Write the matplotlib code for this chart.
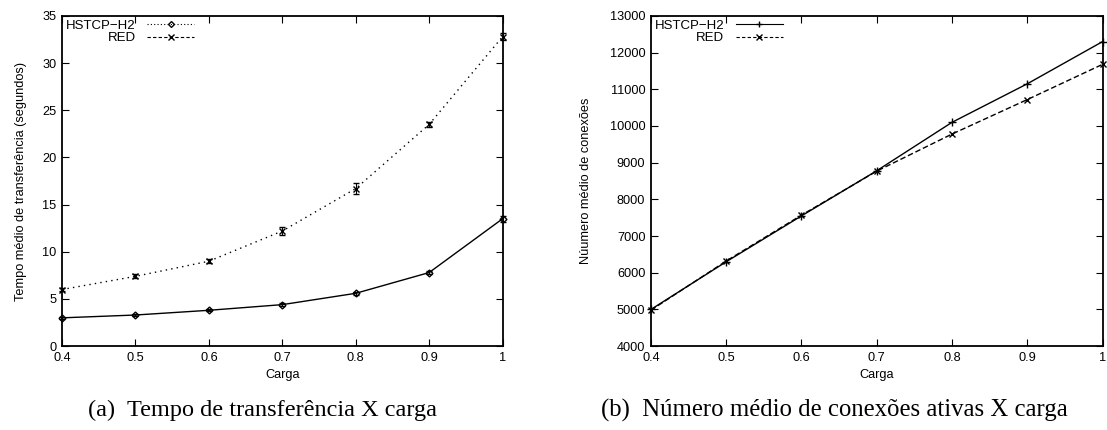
import matplotlib
matplotlib.use("Agg")
import matplotlib.pyplot as plt
from matplotlib.lines import Line2D
from matplotlib.ticker import FixedLocator, FuncFormatter

plt.rcParams['font.family'] = ['Liberation Sans', 'DejaVu Sans']

carga = [0.4, 0.5, 0.6, 0.7, 0.8, 0.9, 1.0]

# (a) Tempo médio de transferência (segundos)
tempo_hstcp = [3.0, 3.3, 3.8, 4.4, 5.6, 7.8, 13.5]
tempo_hstcp_err = [0.1, 0.1, 0.1, 0.15, 0.15, 0.2, 0.3]
tempo_red = [6.0, 7.4, 9.0, 12.2, 16.7, 23.5, 32.8]
tempo_red_err = [0.2, 0.2, 0.2, 0.4, 0.6, 0.3, 0.4]

# (b) Número médio de conexões
conex_hstcp = [5000, 6300, 7550, 8780, 10100, 11150, 12300]
conex_red = [4980, 6320, 7570, 8770, 9780, 10720, 11680]

xticks = [0.4, 0.5, 0.6, 0.7, 0.8, 0.9, 1.0]
yticks_a = [0, 5, 10, 15, 20, 25, 30, 35]
yticks_b = [4000, 5000, 6000, 7000, 8000, 9000, 10000, 11000, 12000, 13000]

fig = plt.figure(figsize=(11.07, 4.30), dpi=100)
axa = fig.add_axes([0.056, 0.195, 0.398, 0.768])
axb = fig.add_axes([0.588, 0.195, 0.408, 0.768])

def fmt(v, p):
    return '%g' % v

def style(ax, yt):
    ax.set_xlim(0.4, 1.0)
    ax.set_ylim(yt[0], yt[-1])
    ax.xaxis.set_major_locator(FixedLocator(xticks))
    ax.yaxis.set_major_locator(FixedLocator(yt))
    ax.xaxis.set_major_formatter(FuncFormatter(fmt))
    ax.tick_params(direction='in', top=True, right=True, length=5, width=0.8,
                   labelsize=9.2, pad=4)
    for s in ax.spines.values():
        s.set_linewidth(1.3)
    ax.set_xlabel('Carga', fontsize=9.2, labelpad=4)

def right_align(leg):
    try:
        for col in leg._legend_handle_box.get_children():
            col.align = 'right'
    except Exception:
        pass

# ---- (a)
axa.plot(carga, tempo_hstcp, '-', color='black', lw=1.0)
axa.errorbar(carga, tempo_hstcp, yerr=tempo_hstcp_err, fmt='D', color='black',
             mfc='none', ms=3.5, mew=1.0, capsize=2, elinewidth=0.8, clip_on=False)
axa.plot(carga, tempo_red, color='black', lw=1.0, ls=(0, (1, 3)))
axa.errorbar(carga, tempo_red, yerr=tempo_red_err, fmt='x', color='black',
             ms=5, mew=1.0, capsize=2.5, elinewidth=0.8, clip_on=False)
style(axa, yticks_a)
axa.set_ylabel('Tempo médio de transferência (segundos)', fontsize=9.2, labelpad=11)
ha = [Line2D([], [], color='black', ls=(0, (1, 2)), lw=0.8, marker='D', mfc='none', ms=3),
      Line2D([], [], color='black', ls=(0, (3, 2)), lw=0.8, marker='x', ms=4)]
leg = axa.legend(ha, ['HSTCP\u2212H2', 'RED'], loc='upper left', frameon=False,
                 markerfirst=False, fontsize=9.5, handlelength=3.5, handletextpad=0.9,
                 labelspacing=0.0, borderaxespad=0.2, borderpad=0.1)
right_align(leg)

# ---- (b)
axb.plot(carga, conex_hstcp, '-', color='black', lw=1.0, marker='+', ms=6, mew=1.0, clip_on=False)
axb.plot(carga, conex_red, color='black', lw=1.0, ls=(0, (4, 2)), marker='x', ms=5, mew=1.0, clip_on=False)
style(axb, yticks_b)
axb.set_ylabel('Núumero médio de conexões', fontsize=9.2, labelpad=13)
hb = [Line2D([], [], color='black', ls='-', lw=0.8, marker='+', ms=5),
      Line2D([], [], color='black', ls=(0, (3, 2)), lw=0.8, marker='x', ms=4)]
legb = axb.legend(hb, ['HSTCP\u2212H2', 'RED'], loc='upper left', frameon=False,
                  markerfirst=False, fontsize=9.5, handlelength=3.5, handletextpad=0.9,
                  labelspacing=0.0, borderaxespad=0.2, borderpad=0.1)
right_align(legb)

serif = ['Liberation Serif', 'DejaVu Serif']
fig.text(0.237, 0.046, '(a)  Tempo de transferência X carga', ha='center', va='center',
         fontsize=17.5, family=serif)
fig.text(0.7535, 0.046, '(b)  Número médio de conexões ativas X carga', ha='center', va='center',
         fontsize=17.8, family=serif)

fig.savefig('out.png', dpi=100)
